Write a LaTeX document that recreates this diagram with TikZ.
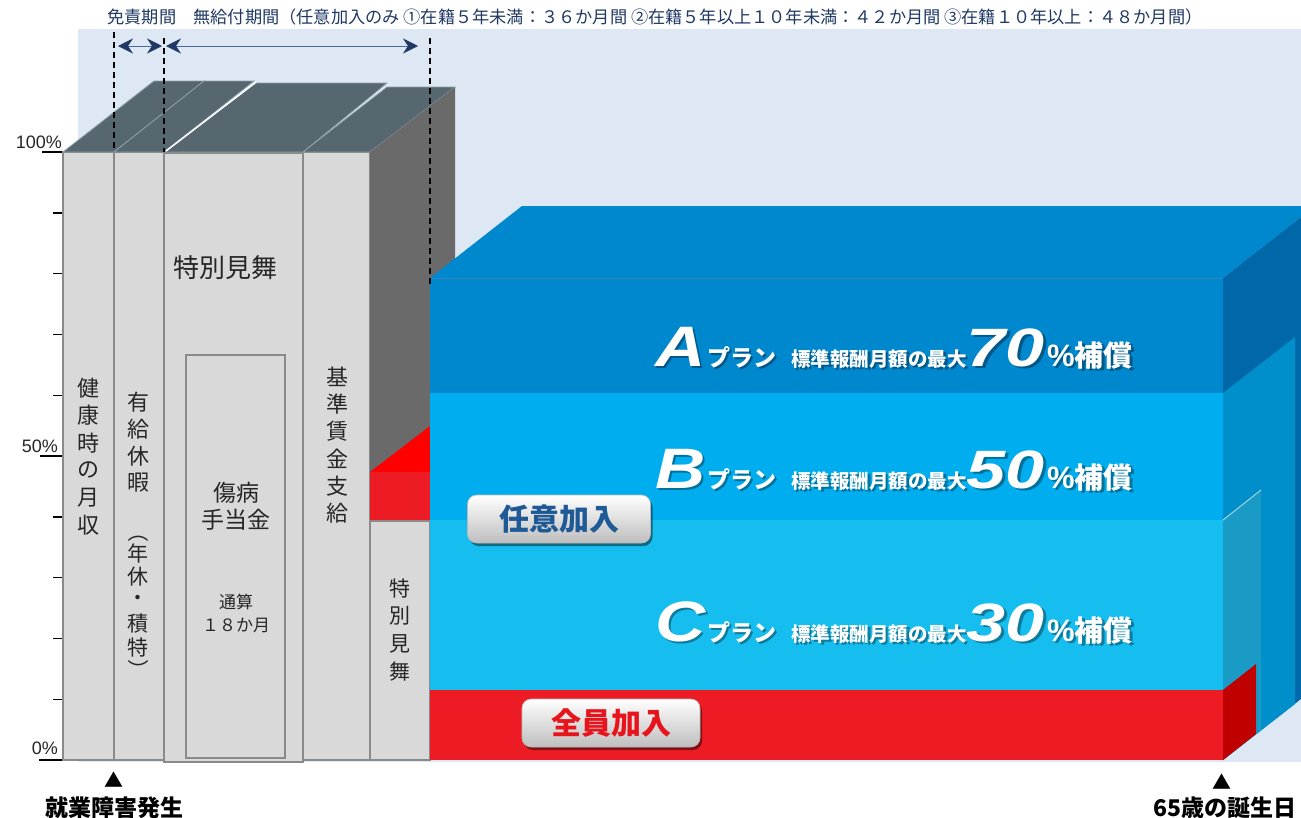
\documentclass[tikz,border=0pt]{standalone}
\usepackage{fontspec}
\setmainfont{Liberation Sans}
\newfontfamily\jp{Noto Sans CJK JP}
\newfontfamily\lsans{Liberation Sans}
\usetikzlibrary{arrows.meta}
\definecolor{bgblue}{HTML}{DEE8F4}
\definecolor{boxgray}{HTML}{D9D9D9}
\definecolor{edgegray}{HTML}{8A8A8A}
\definecolor{topgray}{HTML}{57676F}
\definecolor{sepgray}{HTML}{8E9EA6}
\definecolor{sidegray}{HTML}{6A6A6A}
\definecolor{redtop}{HTML}{FF0000}
\definecolor{redmain}{HTML}{ED1C24}
\definecolor{redside}{HTML}{C00000}
\definecolor{ablue}{HTML}{0088CF}
\definecolor{aside}{HTML}{0068A8}
\definecolor{bblue}{HTML}{00AEEF}
\definecolor{bside}{HTML}{008FCB}
\definecolor{cblue}{HTML}{16BEF0}
\definecolor{cside}{HTML}{1A9BC6}
\definecolor{navy}{HTML}{1F3864}
\definecolor{arrline}{HTML}{4A6A9A}
\definecolor{txtdark}{HTML}{262626}
\definecolor{btnblue}{HTML}{1F5A96}
\definecolor{btnred}{HTML}{E8141C}
\definecolor{btngray}{HTML}{BEBEBE}
\newcommand{\planlbl}[2]{{\lsans\bfseries\itshape\fontsize{57}{57}\selectfont\scalebox{1.22}[1]{#1}}\hspace{2pt}{\jp\bfseries\fontsize{23}{23}\selectfont プラン}\hspace{15pt}{\jp\bfseries\fontsize{19.5}{19.5}\selectfont 標準報酬月額の最大}{\lsans\bfseries\itshape\fontsize{54}{54}\selectfont\scalebox{1.3}[1]{#2}}\hspace{2pt}{\lsans\bfseries\fontsize{31}{31}\selectfont\%}{\jp\bfseries\fontsize{29}{29}\selectfont 補償}}
\begin{document}
\begin{tikzpicture}[x=1pt,y=-1pt,
  front/.style={fill=boxgray,draw=edgegray,line width=1.3pt},
  topface/.style={fill=topgray,draw=sepgray,line width=0.8pt},
  vchar/.style={font=\jp\fontsize{22}{22}\selectfont,text=txtdark,inner sep=0pt},
  dline/.style={draw=black,line width=1.8pt,dash pattern=on 6pt off 4pt},
  tickmark/.style={draw=black,line width=1.4pt},
  pct/.style={font=\lsans\fontsize{18}{18}\selectfont,text=txtdark,inner sep=0pt,anchor=base east},
  span/.style={draw=arrline,line width=1pt,{Stealth[length=15pt,width=15pt,inset=5pt,navy]}-{Stealth[length=15pt,width=15pt,inset=5pt,navy]}},
  plan/.style={anchor=base west,inner sep=0pt,text=white},
  planshadow/.style={anchor=base west,inner sep=0pt,text=black,opacity=0.35},
  btnbase/.style={rounded corners=9pt,minimum height=48pt,inner sep=0pt},
  btn/.style={btnbase,top color=white,bottom color=btngray,draw=gray!55,line width=0.6pt,font=\jp\bfseries\fontsize{30}{30}\selectfont},
  btnshadow/.style={btnbase,fill=black,opacity=0.45},
  bottomlbl/.style={font=\jp\bfseries\fontsize{23}{23}\selectfont,text=black,inner sep=0pt},
  tri/.style={font=\jp\fontsize{19}{19}\selectfont,text=black,inner sep=0pt}
]
\useasboundingbox (0,0) rectangle (1301,817);
\fill[bgblue] (78,29) rectangle (1301,762);

% top title
\node[font=\jp\fontsize{17.2}{17.2}\selectfont,text=navy,inner sep=0pt] (title) at (655,17) {免責期間　無給付期間（任意加入のみ ①在籍５年未満：３６か月間 ②在籍５年以上１０年未満：４２か月間 ③在籍１０年以上：４８か月間）};

% axis ticks and labels
\foreach \i in {1,2,3,4,6,7,8,9}
  \draw[tickmark] (53,{152+60.8*\i}) -- (63,{152+60.8*\i});
\draw[tickmark] (42,152) -- (63,152);
\draw[tickmark] (40,456) -- (63,456);
\draw[tickmark] (39,760) -- (63,760);
\node[pct] (p100) at (62,148) {100\%};
\node[pct] (p50) at (58,452) {50\%};
\node[pct] (p0) at (58,754) {0\%};

% gray columns
\draw[front] (63,152) rectangle (114,760);
\draw[front] (114,152) rectangle (164,760);
\draw[front] (164,153) rectangle (303,762);
\draw[front] (303,152) rectangle (370,760);
\draw[front] (186,355) rectangle (285,758);

% top faces
\draw[topface] (63,152) -- (154,81) -- (204,81) -- (114,152) -- cycle;
\draw[topface] (114,152) -- (204,81) -- (254,81) -- (164,152) -- cycle;
\draw[topface] (303,152) -- (387,87) -- (455,87) -- (370,152) -- cycle;
\draw[topface] (164,152) -- (256,83) -- (387,83) -- (303,152) -- cycle;
\draw[white,line width=1.5pt] (166,151) -- (256,82);

% side face of the 4th column and the small stacked boxes
\fill[sidegray] (370,152) -- (455,87) -- (455,430) -- (370,472) -- cycle;
\fill[redtop] (370,472) -- (430,426) -- (430,472) -- cycle;
\fill[redmain] (370,472) rectangle (430,521);
\draw[front] (370,521) rectangle (430,760);

% blue block: A
\fill[ablue] (430,278) -- (522,206) -- (1315,206) -- (1223,278) -- cycle;
\fill[aside] (1223,278) -- (1315,206) -- (1315,688) -- (1223,760) -- cycle;
\fill[ablue] (430,278) rectangle (1223,393);
\draw[aside!80,line width=0.6pt] (430,278) -- (1223,278);
% B
\fill[bside] (1223,393) -- (1295,337) -- (1295,704) -- (1223,760) -- cycle;
\fill[bblue] (430,393) rectangle (1223,520);
% C
\fill[cside] (1223,520) -- (1261,490) -- (1261,730) -- (1223,760) -- cycle;
\draw[white!70!cside,line width=0.8pt] (1223,520) -- (1261,490);
\fill[cblue] (430,520) rectangle (1223,690);
% red
\fill[redside] (1223,690) -- (1256,664) -- (1256,734) -- (1223,760) -- cycle;
\fill[redmain] (430,690) rectangle (1223,760);

% dashed boundaries and spans
\draw[dline] (114,32) -- (114,150);
\draw[dline] (164,38) -- (164,152);
\draw[dline] (430,38) -- (430,284);
\coordinate (s1a) at (118,46);
\coordinate (s1b) at (162,46);
\coordinate (s2a) at (166,46);
\coordinate (s2b) at (418,46);
\draw[span] (s1a) -- (s1b);
\draw[span] (s2a) -- (s2b);

% column texts
\foreach \c [count=\i] in {健,康,時,の,月,収}
  \node[vchar,name=k\i] at (88,{388+27.4*(\i-1)}) {\c};
\foreach \c [count=\i] in {有,給,休,暇}
  \node[vchar,name=y\i] at (138,{402+27*(\i-1)}) {\c};
\node[vchar,font=\jp\fontsize{21}{21}\selectfont] (yp1) at (138,532) {\rotatebox[origin=c]{-90}{（}};
\foreach \c [count=\i] in {年,休,・,積,特}
  \node[vchar,font=\jp\fontsize{21}{21}\selectfont,name=z\i] at (138,{553+23.5*(\i-1)}) {\c};
\node[vchar,font=\jp\fontsize{21}{21}\selectfont] (yp2) at (138,670) {\rotatebox[origin=c]{-90}{）}};
\foreach \c [count=\i] in {基,準,賃,金,支,給}
  \node[vchar,name=g\i] at (337,{377+27.2*(\i-1)}) {\c};
\foreach \c [count=\i] in {特,別,見,舞}
  \node[vchar,font=\jp\fontsize{21}{21}\selectfont,name=m\i] at (400,{588+28*(\i-1)}) {\c};
\node[font=\jp\fontsize{26}{26}\selectfont,text=txtdark,inner sep=0pt] (tokubetsu) at (225,268) {特別見舞};
\node[font=\jp\fontsize{23}{27}\selectfont,text=txtdark,inner sep=0pt,align=center] (shobyo) at (236,506) {傷病\\手当金};
\node[font=\jp\fontsize{17}{23}\selectfont,text=txtdark,inner sep=0pt,align=center] (tsusan) at (236,613) {通算\\１８か月};

% plan labels
\node[planshadow] (pas) at (657.5,368.5) {\planlbl{A}{70}};
\node[plan] (pa) at (655,366) {\planlbl{A}{70}};
\node[planshadow] (pbs) at (657.5,490.5) {\planlbl{B}{50}};
\node[plan] (pb) at (655,488) {\planlbl{B}{50}};
\node[planshadow] (pcs) at (657.5,643.5) {\planlbl{C}{30}};
\node[plan] (pc) at (655,641) {\planlbl{C}{30}};

% buttons
\node[btnshadow,minimum width=183pt] (opts) at (561,522) {};
\node[btn,minimum width=183pt,text=btnblue] (opt) at (559,519) {任意加入};
\node[btnshadow,minimum width=178pt] (alls) at (613,726) {};
\node[btn,minimum width=178pt,text=btnred] (all) at (611,723) {全員加入};

% bottom markers
\node[tri] (t1) at (114,780) {▲};
\node[bottomlbl] (start) at (114,808) {就業障害発生};
\node[tri] (t2) at (1222,782) {▲};
\node[bottomlbl,anchor=east] (end) at (1297,808) {65歳の誕生日};
\end{tikzpicture}
\end{document}
